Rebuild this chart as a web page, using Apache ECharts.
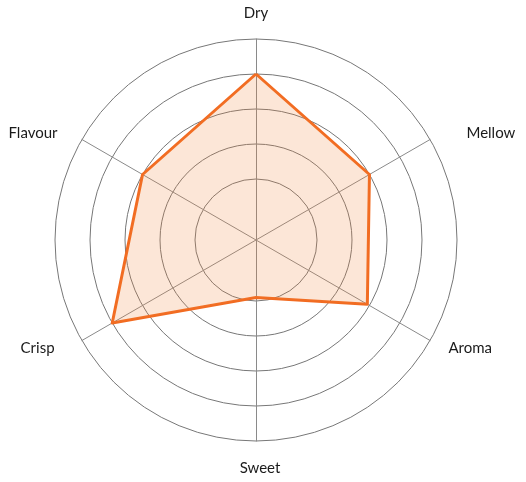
<!DOCTYPE html>
<html>
<head>
<meta charset="utf-8">
<script src="https://cdn.jsdelivr.net/npm/echarts@6/dist/echarts.min.js"></script>
<style>
  html, body { margin: 0; padding: 0; background: #fff; }
  #chart { width: 526px; height: 482px; }
</style>
</head>
<body>
<div id="chart"></div>
<script>
// radar goes counter-clockwise from the top in echarts
const indicators = ["Dry", "Flavour", "Crisp", "Sweet", "Aroma", "Mellow"];
const scores = [4, 3, 4, 0.9, 2.93, 3];
const scaleMax = 5;

// per-label nudges so the names sit where the original put them
const labelPadding = {
  dry: [0, 0, 6, 0],
  flavour: [0, 14, 0, 0],
  crisp: [3, 17, 0, 0],
  sweet: [8, 0, 0, 8],
  aroma: [3, 0, 0, 8],
  mellow: [0, 0, 0, 26],
};

const rich = {};
Object.keys(labelPadding).forEach((k) => {
  rich[k] = {
    padding: labelPadding[k],
    fontFamily: "Lato",
    fontSize: 15,
    color: "#1a1a1a",
  };
});

const chart = echarts.init(document.getElementById("chart"));

const option = {
  animation: false,
  radar: [
    {
      // rings + names; inner radius leaves the empty middle
      center: [256, 240],
      radius: [26, 201],
      shape: "circle",
      splitNumber: 5,
      indicator: indicators.map((name) => ({ name: name, min: 0, max: scaleMax })),
      nameGap: 12,
      axisName: {
        formatter: (name) => "{" + name.toLowerCase() + "|" + name + "}",
        rich: rich,
      },
      axisLine: { show: false },
      splitLine: {
        lineStyle: {
          color: ["rgba(0,0,0,0)", "#777", "#777", "#777", "#777", "#777"],
          width: 1,
        },
      },
      splitArea: { show: false },
    },
    {
      // spokes running through the centre
      center: [256, 240],
      radius: 201,
      shape: "circle",
      indicator: indicators.map((name) => ({ name: name, min: 0, max: scaleMax })),
      axisName: { show: false },
      axisLine: { lineStyle: { color: "#8a8a8a", width: 1 } },
      splitLine: { show: false },
      splitArea: { show: false },
    },
  ],
  series: [
    {
      type: "radar",
      radarIndex: 0,
      symbol: "none",
      lineStyle: { color: "#f26b21", width: 3 },
      areaStyle: { color: "rgb(240,130,55)", opacity: 0.2 },
      data: [{ value: scores }],
    },
  ],
};

chart.setOption(option);
</script>
</body>
</html>
